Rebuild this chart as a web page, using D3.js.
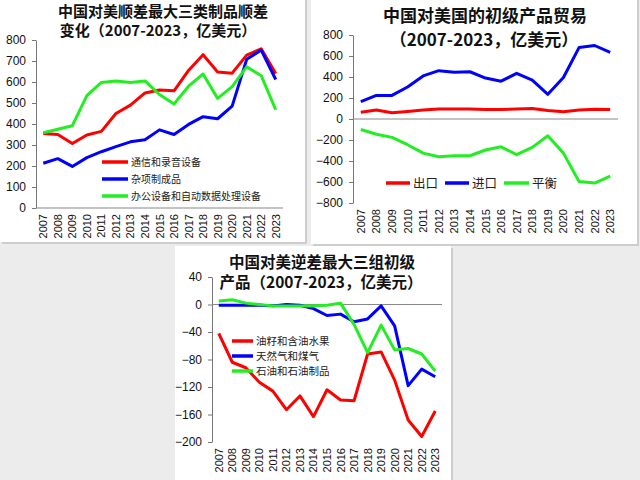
<!DOCTYPE html>
<html><head><meta charset="utf-8">
<script src="https://cdn.jsdelivr.net/npm/d3@7"></script>
<style>body{margin:0;background:#ececec;} svg{display:block;}</style>
</head><body>
<svg id="c" width="640" height="480"></svg>
<script>
const years = [2007,2008,2009,2010,2011,2012,2013,2014,2015,2016,2017,2018,2019,2020,2021,2022,2023];

// Panel 1: 中国对美顺差最大三类制品顺差
const p1Names = ["通信和录音设备","杂项制成品","办公设备和自动数据处理设备"];
const p1Telecom = [355,350,307,348,365,450,490,548,562,558,655,730,648,642,728,758,640];
const p1Misc    = [213,235,198,240,268,292,315,325,372,350,398,435,425,485,708,752,612];
const p1Office  = [358,375,392,535,598,605,598,605,540,495,580,638,522,578,672,630,468];
const p1Ticks = [0,100,200,300,400,500,600,700,800];

// Panel 2: 中国对美国的初级产品贸易
const p2Names = ["出口","进口","平衡"];
const p2Export  = [65,85,60,72,85,95,95,95,90,90,95,100,80,70,85,92,90];
const p2Import  = [165,225,225,305,410,460,445,450,390,360,435,370,235,395,680,700,635];
const p2Balance = [-100,-145,-175,-245,-325,-360,-350,-350,-295,-265,-340,-270,-160,-325,-595,-610,-545];
const p2Ticks = [-800,-600,-400,-200,0,200,400,600,800];

// Panel 3: 中国对美逆差最大三组初级产品
const p3Names = ["油籽和含油水果","天然气和煤气","石油和石油制品"];
const p3Oilseed = [-42,-84,-92,-113,-126,-153,-133,-163,-124,-139,-140,-72,-69,-110,-168,-192,-155];
const p3Gas     = [-1,-1,-1,-1,-2,0,-1,-6,-16,-14,-25,-21,-2,-31,-118,-94,-105];
const p3Oil     = [5,7,2,0,-2,-2,-2,-2,-1,2,-29,-70,-30,-66,-64,-72,-97];
const p3Ticks = [-200,-160,-120,-80,-40,0,40];

const RED="#ff0000", BLUE="#0000ff", GREEN="#22ee22";
const svg = d3.select("#c");
svg.append("rect").attr("width",640).attr("height",480).attr("fill","#ececec");

function card(x,y,w,h){
  svg.append("rect").attr("x",x+2).attr("y",y+2).attr("width",w).attr("height",h).attr("fill","#cdcdcd");
  svg.append("rect").attr("x",x).attr("y",y).attr("width",w).attr("height",h).attr("fill","#fff");
}
card(0,-3,305,245);
card(311,-3,326,247);
card(175,246,276,240);

const TF = "'Noto Sans CJK SC', sans-serif";
const NF = "'Liberation Sans', Arial, sans-serif";

function panel(cfg){
  const g = svg.append("g");
  const x = d3.scalePoint().domain(years).range(cfg.xr).padding(0.5);
  const y = d3.scaleLinear().domain(cfg.yd).range(cfg.yr);
  const ya = g.append("g").attr("transform",`translate(${cfg.xr[0]},0)`)
    .call(d3.axisLeft(y).tickValues(cfg.yt).tickSize(4).tickPadding(6).tickSizeOuter(0));
  ya.select(".domain").attr("stroke","#777");
  ya.selectAll(".tick line").attr("stroke","#777");
  ya.selectAll("text").attr("font-family",NF).attr("font-size",cfg.tfs).attr("fill","#111");
  g.append("line").attr("x1",cfg.xr[0]).attr("x2",cfg.xr[1]).attr("y1",y(0)).attr("y2",y(0))
    .attr("stroke","#888").attr("stroke-width",1.2);
  const bottom = y(cfg.yd[0]);
  g.selectAll(".xl").data(years).join("text")
    .attr("transform",d=>`translate(${x(d)+4},${bottom+6}) rotate(-90)`)
    .attr("text-anchor","end").attr("font-family",NF).attr("font-size",11).attr("fill","#111")
    .text(d=>d);
  const line = d3.line().x((d,i)=>x(years[i])).y(d=>y(d));
  cfg.series.forEach(s=>{
    g.append("path").attr("d",line(s.v)).attr("fill","none").attr("stroke",s.c)
      .attr("stroke-width",3).attr("stroke-linejoin","round");
  });
  cfg.title.forEach(t=>{
    g.append("text").attr("x",t[1]).attr("y",t[2]).attr("text-anchor","middle")
      .attr("font-family",TF).attr("font-weight","bold").attr("font-size",cfg.titleFs).attr("fill","#111").text(t[0]);
  });
  cfg.series.forEach((s,i)=>{
    const L = cfg.legend[i];
    g.append("line").attr("x1",L[0]).attr("x2",L[1]).attr("y1",L[2]).attr("y2",L[2])
      .attr("stroke",s.c).attr("stroke-width",3.5);
    g.append("text").attr("x",L[1]+3).attr("y",L[2]).attr("dy","0.36em")
      .attr("font-family",TF).attr("font-size",cfg.lfs).attr("fill","#222").text(s.n);
  });
}

panel({
  xr:[36,283], yd:[0,800], yr:[208,40], yt:p1Ticks, tfs:12, titleFs:15, lfs:10,
  title:[["中国对美顺差最大三类制品顺差",163,17],["变化（2007-2023，亿美元）",158,36]],
  series:[{n:p1Names[0],v:p1Telecom,c:RED},{n:p1Names[1],v:p1Misc,c:BLUE},{n:p1Names[2],v:p1Office,c:GREEN}],
  legend:[[102,128,162],[102,128,179],[102,128,196]]
});

panel({
  xr:[353,618], yd:[-800,800], yr:[203,35], yt:p2Ticks, tfs:12, titleFs:17, lfs:12.5,
  title:[["中国对美国的初级产品贸易",485,22],["（2007-2023，亿美元）",484,46]],
  series:[{n:p2Names[0],v:p2Export,c:RED},{n:p2Names[1],v:p2Import,c:BLUE},{n:p2Names[2],v:p2Balance,c:GREEN}],
  legend:[[386,410,183],[445,469,183],[504,529,183]]
});

panel({
  xr:[212,442], yd:[-200,40], yr:[442,277], yt:p3Ticks, tfs:12, titleFs:15.5, lfs:10.5,
  title:[["中国对美逆差最大三组初级",322,268],["产品（2007-2023，亿美元）",321,288]],
  series:[{n:p3Names[0],v:p3Oilseed,c:RED},{n:p3Names[1],v:p3Gas,c:BLUE},{n:p3Names[2],v:p3Oil,c:GREEN}],
  legend:[[232,253,341],[232,253,356],[232,253,371]]
});
</script>
</body></html>
